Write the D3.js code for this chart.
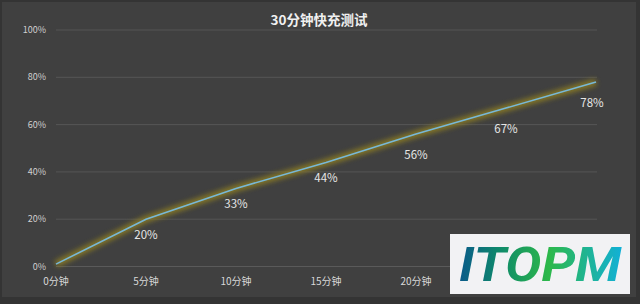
<!DOCTYPE html>
<html>
<head>
<meta charset="utf-8">
<script src="https://cdn.jsdelivr.net/npm/d3@7"></script>
<style>
  body { margin: 0; background: #333; }
  svg { display: block; font-family: "Noto Sans CJK SC", "Noto Sans", sans-serif; }
</style>
</head>
<body>
<svg width="640" height="304"></svg>
<script>
const svg = d3.select("svg");
const width = +svg.attr("width");
const height = +svg.attr("height");

// data
const categories = ["0分钟", "5分钟", "10分钟", "15分钟", "20分钟", "25分钟", "30分钟"];
const values = [1, 20, 33, 44, 56, 67, 78];
const yTicks = [0, 20, 40, 60, 80, 100];
const title = "30分钟快充测试";

// frame + panel
svg.append("rect").attr("width", width).attr("height", height).attr("fill", "#343434");
svg.append("rect").attr("x", 2).attr("y", 2).attr("width", 634).attr("height", 295).attr("fill", "#404040");

const x = d3.scalePoint().domain(categories).range([56, 596]);
const y = d3.scaleLinear().domain([0, 100]).range([266.5, 30]);

// grid
svg.append("g")
    .selectAll("line")
    .data(yTicks)
    .enter().append("line")
    .attr("x1", 56).attr("x2", 597)
    .attr("y1", d => y(d)).attr("y2", d => y(d))
    .style("stroke", d => d === 0 ? "#5a5a5a" : "#555")
    .style("stroke-width", 1);

// y axis labels
svg.append("g")
    .selectAll("text")
    .data(yTicks)
    .enter().append("text")
    .attr("x", 46)
    .attr("y", d => y(d))
    .attr("dy", "0.35em")
    .attr("text-anchor", "end")
    .attr("font-size", 9)
    .attr("fill", "#d0d0d0")
    .text(d => d + "%");

// x axis labels (the last two sit under the watermark, as in the original)
svg.append("g")
    .selectAll("text")
    .data(categories)
    .enter().append("text")
    .attr("x", d => x(d))
    .attr("y", 281)
    .attr("dy", "0.35em")
    .attr("text-anchor", "middle")
    .attr("font-size", 10)
    .attr("fill", "#d8d8d8")
    .text(d => d);

// glow filter for the line
const defs = svg.append("defs");
const glow = defs.append("filter").attr("id", "glow")
    .attr("x", "-10%").attr("y", "-50%").attr("width", "120%").attr("height", "200%");
glow.append("feGaussianBlur").attr("stdDeviation", 2.5);

const pts = values.map((v, i) => [x(categories[i]), y(v)]);
const line = d3.line();

svg.append("path")
    .attr("d", line(pts))
    .attr("fill", "none")
    .style("stroke", "#8f7f22")
    .style("stroke-width", 7)
    .style("opacity", 0.85)
    .attr("filter", "url(#glow)");

svg.append("path")
    .attr("d", line(pts))
    .attr("fill", "none")
    .style("stroke", "#78b8d8")
    .style("stroke-width", 1.6);

// value labels (first point unlabelled)
svg.append("g")
    .selectAll("text")
    .data(values.slice(1))
    .enter().append("text")
    .attr("x", (d, i) => x(categories[i + 1]) - (i === values.length - 2 ? 4 : 0))
    .attr("y", (d, i) => y(d) + (i < 3 ? 16 : 21))
    .attr("dy", "0.35em")
    .attr("text-anchor", "middle")
    .attr("font-size", 11.5)
    .attr("fill", "#e6e6e6")
    .text(d => d + "%");

// title
svg.append("text")
    .attr("x", 319)
    .attr("y", 20)
    .attr("dy", "0.35em")
    .attr("text-anchor", "middle")
    .attr("font-size", 13.5)
    .attr("font-weight", 600)
    .attr("fill", "#f0f0f0")
    .text(title);

// watermark
const grad = defs.append("linearGradient").attr("id", "wm")
    .attr("x1", "0%").attr("x2", "100%").attr("y1", "0%").attr("y2", "0%");
grad.append("stop").attr("offset", "0%").attr("stop-color", "#0a5a8a");
grad.append("stop").attr("offset", "25%").attr("stop-color", "#0f8a6a");
grad.append("stop").attr("offset", "55%").attr("stop-color", "#2db84a");
grad.append("stop").attr("offset", "100%").attr("stop-color", "#12b0d8");

svg.append("rect")
    .attr("x", 450).attr("y", 234).attr("width", 180).attr("height", 60)
    .attr("fill", "#f2f2f4");
svg.append("text")
    .attr("x", 459).attr("y", 281)
    .attr("font-family", "Roboto, 'DejaVu Sans', sans-serif")
    .attr("font-size", 48)
    .attr("font-style", "italic")
    .attr("font-weight", "bold")
    .attr("textLength", 162)
    .attr("lengthAdjust", "spacingAndGlyphs")
    .attr("fill", "url(#wm)")
    .text("ITOPM");
</script>
</body>
</html>
